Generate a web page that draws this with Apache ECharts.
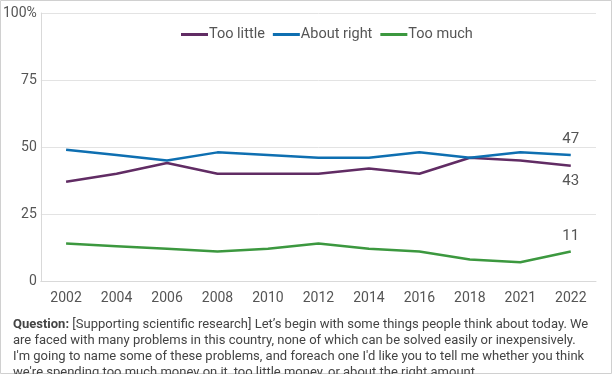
<!DOCTYPE html>
<html><head><meta charset="utf-8">
<script src="https://cdn.jsdelivr.net/npm/echarts@6/dist/echarts.min.js"></script>
<style>html,body{margin:0;padding:0;background:#fff}#c{width:612px;height:374px}</style>
</head><body><div id="c"></div>
<script>
const years = ['2002','2004','2006','2008','2010','2012','2014','2016','2018','2021','2022'];
const tooLittle = [37,40,44,40,40,40,42,40,46,45,43];
const aboutRight = [49,47,45,48,47,46,46,48,46,48,47];
const tooMuch = [14,13,12,11,12,14,12,11,8,7,11];
const seriesNames = ['Too little','About right','Too much'];
const questionLines = [
  "[Supporting scientific research] Let\u2019s begin with some things people think about today. We",
  "are faced with many problems in this country, none of which can be solved easily or inexpensively.",
  "I'm going to name some of these problems, and foreach one I'd like you to tell me whether you think",
  "we're spending too much money on it, too little money, or about the right amount."
];
const colors = ['#612c64','#0e6fb1','#3c983f'];
const font = 'Roboto, "Noto Sans", sans-serif';
const chart = echarts.init(document.getElementById('c'), null, {renderer:'canvas'});
const mkSeries = (name, data, color, pos) => ({
  name, type:'line', symbol:'circle', symbolSize:0.01, showSymbol:true, smooth:false,
  data: data.map((v,i) => i === data.length-1
    ? {value:v, label:{show:true, position:pos, distance:8, fontSize:15, color:'#555', fontFamily:font}}
    : v),
  lineStyle:{width:2.5, color}, itemStyle:{color},
  label:{show:false}, labelLayout:{hideOverlap:false}
});
chart.setOption({
  animation:false,
  textStyle:{fontFamily:font},
  grid:{left:40, right:16, top:13, bottom:93, containLabel:false},
  legend:{top:22, left:176, itemWidth:27, itemHeight:3, itemGap:8,
    icon:'rect', textStyle:{fontSize:14.5, color:'#555', fontFamily:font, padding:[0,0,0,-4]},
    data:seriesNames},
  xAxis:{type:'category', data:years, boundaryGap:true,
    axisLine:{show:true, lineStyle:{color:'#d9d9d9', width:1}},
    axisTick:{show:false},
    axisLabel:{fontSize:14, color:'#555', margin:10, fontFamily:font}},
  yAxis:{type:'value', min:0, max:100, interval:25,
    axisLine:{show:true, lineStyle:{color:'#d9d9d9'}},
    axisTick:{show:false},
    splitLine:{lineStyle:{color:'#e3e3e3'}},
    axisLabel:{fontSize:14, color:'#555', margin:4, fontFamily:font,
      formatter: v => v===100 ? '100%' : v}},
  series:[
    mkSeries(seriesNames[0], tooLittle, colors[0], 'bottom'),
    mkSeries(seriesNames[1], aboutRight, colors[1], 'top'),
    mkSeries(seriesNames[2], tooMuch, colors[2], 'top')
  ],
  graphic:[
    {type:'rect', shape:{x:0.5,y:0.5,width:611,height:373}, style:{fill:'none', stroke:'#d0d0d0', lineWidth:1}, silent:true},
    {type:'text', left:13, top:317, style:{
      text:'{b|Question:} ' + questionLines[0] + '\n' + questionLines.slice(1).join('\n'),
      rich:{b:{fontWeight:'bold', fontSize:13, fill:'#444', fontFamily:font}},
      fontSize:13, fill:'#444', fontFamily:font, lineHeight:16}}
  ]
});
</script></body></html>
